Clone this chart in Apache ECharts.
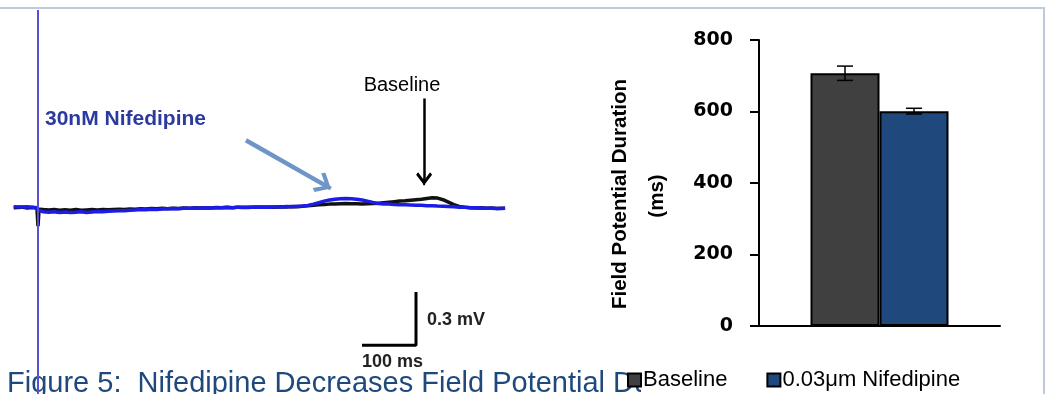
<!DOCTYPE html>
<html><head><meta charset="utf-8">
<script src="https://cdn.jsdelivr.net/npm/echarts@6/dist/echarts.min.js"></script>
<style>html,body{margin:0;padding:0;background:#fff}#c{width:1048px;height:394px}</style>
</head><body><div id="c"></div>
<script>
// ---- Field potential traces (time in ms, voltage in mV) ----
const traceTimeMs = [-45,-30,-20,-10,-2,0,2,10,20,30,40,50,60,70,80,90,100,110,120,130,140,150,160,170,180,190,200,210,220,230,240,250,260,270,280,290,300,310,320,330,340,350,360,370,380,390,400,410,420,430,440,450,460,470,480,490,500,510,520,530,540,550,560,570,580,590,600,610,620,630,640,650,660,670,680,690,700,710,720,730,740,750,760,770,780,790,800,810,820,830,840,850,865];
const baselineTraceMv = [0.003,0.006,0.001,0.004,0.000,-0.102,-0.006,-0.008,-0.010,-0.007,-0.011,-0.009,-0.011,-0.008,-0.012,-0.010,-0.008,-0.010,-0.007,-0.009,-0.007,-0.006,-0.008,-0.005,-0.006,-0.003,-0.005,-0.002,-0.003,-0.001,-0.003,0.000,-0.002,0.001,-0.001,0.002,0.001,0.003,0.001,0.004,0.002,0.005,0.003,0.006,0.004,0.006,0.005,0.007,0.006,0.007,0.006,0.008,0.007,0.009,0.008,0.011,0.014,0.017,0.019,0.021,0.023,0.024,0.025,0.026,0.025,0.025,0.024,0.025,0.026,0.028,0.031,0.034,0.037,0.040,0.042,0.045,0.048,0.051,0.055,0.059,0.057,0.048,0.034,0.020,0.010,0.006,0.003,0.001,0.003,0.000,0.001,-0.002,0.000];
const nifedipineTraceMv = [0.008,0.007,0.008,0.006,0.003,-0.011,-0.017,-0.020,-0.023,-0.020,-0.024,-0.021,-0.025,-0.023,-0.020,-0.024,-0.021,-0.019,-0.020,-0.017,-0.016,-0.014,-0.015,-0.011,-0.010,-0.008,-0.009,-0.006,-0.007,-0.005,-0.003,-0.002,-0.003,0.000,-0.001,0.001,0.000,0.002,0.001,0.003,0.002,0.004,0.003,0.005,0.006,0.004,0.007,0.006,0.007,0.006,0.008,0.007,0.010,0.008,0.011,0.012,0.016,0.023,0.031,0.040,0.046,0.051,0.053,0.055,0.054,0.051,0.046,0.040,0.033,0.027,0.024,0.023,0.021,0.020,0.019,0.018,0.017,0.016,0.014,0.014,0.012,0.011,0.010,0.008,0.006,0.005,0.003,0.002,0.001,0.000,0.000,-0.002,-0.001];
const stimulusTimeMs = 0;
const scaleBarTimeMs = 100;
const scaleBarVoltMv = 0.3;

// ---- Field potential duration bars ----
const barCategories = ['FPD'];
const barSeriesNames = ['Baseline', '0.03\u03bcm Nifedipine'];
const fpdMeansMs = [707, 601];
const fpdErrorsMs = [20, 8];
const fpdAxisMin = 0, fpdAxisMax = 800, fpdAxisStep = 200;

// ---- build ----
const zip = (xs, ys) => xs.map((x, i) => [x, ys[i]]);
const barColors = ['#404040', '#1f497d'];
const barW = 69;
const chevronBlack = 'path://M8,0 L16,10.5 L14,13 L8,5 L2,13 L0,10.5 Z M7,0 L9,0 L9,7 L7,7 Z';
const chevronBlue = 'path://M11,0 L22,12.5 L19.5,16 L11,6 L2.5,16 L0,12.5 Z M9,0 L13,0 L13,8.5 L9,8.5 Z';

const scaleCorner = [700, -0.774];
const errorSeries = fpdMeansMs.map((m, i) => ({
  type: 'custom', xAxisIndex: 1, yAxisIndex: 1, z: 5,
  data: [[0, m, fpdErrorsMs[i]]],
  encode: { x: 0, y: 1 },
  renderItem: function (params, api) {
    const xi = api.value(0), mean = api.value(1), err = api.value(2);
    const off = (i === 0 ? -1 : 1) * barW / 2;
    const x = api.coord([xi, mean])[0] + off;
    const top = api.coord([xi, mean + err])[1];
    const bot = api.coord([xi, mean - err])[1];
    const hw = 8, st = { stroke: '#000', lineWidth: 1.5 };
    return { type: 'group', children: [
      { type: 'line', shape: { x1: x, y1: top, x2: x, y2: bot }, style: st },
      { type: 'line', shape: { x1: x - hw, y1: top, x2: x + hw, y2: top }, style: st },
      { type: 'line', shape: { x1: x - hw, y1: bot, x2: x + hw, y2: bot }, style: st }
    ]};
  }
}));

const chart = echarts.init(document.getElementById('c'), null, { renderer: 'canvas' });
chart.setOption({
  animation: false,
  backgroundColor: '#fff',
  grid: [
    { left: 11, top: 10, width: 540, height: 384 },
    { left: 759, top: 40, width: 241, height: 286 }
  ],
  xAxis: [
    { gridIndex: 0, type: 'value', min: -50, max: 950, show: false },
    { gridIndex: 1, type: 'category', data: barCategories,
      axisLine: { lineStyle: { color: '#000', width: 2 } },
      axisTick: { show: false }, axisLabel: { show: false } }
  ],
  yAxis: [
    { gridIndex: 0, type: 'value', min: -1.05, max: 1.12, show: false },
    { gridIndex: 1, type: 'value', min: fpdAxisMin, max: fpdAxisMax, interval: fpdAxisStep,
      axisLine: { show: true, lineStyle: { color: '#000', width: 2 } },
      axisTick: { show: true, length: 9, lineStyle: { color: '#000', width: 2 } },
      axisLabel: { fontFamily: 'DejaVu Sans', fontWeight: 'bold', fontSize: 19, color: '#000', margin: 26 },
      splitLine: { show: false } }
  ],
  legend: {
    data: barSeriesNames, left: 627, top: 369, padding: 0, itemGap: 39,
    itemWidth: 13, itemHeight: 13, icon: 'rect', z: 10,
    textStyle: { fontFamily: 'Liberation Sans', fontSize: 22, color: '#000', padding: [0, 0, 0, -3] }
  },
  series: [
    { type: 'line', name: 'baselineTrace', xAxisIndex: 0, yAxisIndex: 0, data: zip(traceTimeMs, baselineTraceMv),
      showSymbol: false, symbol: 'none', z: 2, lineStyle: { color: '#111', width: 3.5 }, silent: true },
    { type: 'line', name: 'nifTrace', xAxisIndex: 0, yAxisIndex: 0, data: zip(traceTimeMs, nifedipineTraceMv),
      showSymbol: false, symbol: 'none', z: 3, lineStyle: { color: '#1c1ce6', width: 3.5 }, silent: true },
    { type: 'line', name: 'stimulus', xAxisIndex: 0, yAxisIndex: 0, data: [[stimulusTimeMs, -1.05], [stimulusTimeMs, 1.12]],
      showSymbol: false, symbol: 'none', z: 4, lineStyle: { color: '#5a4fcf', width: 2 }, silent: true },
    { type: 'line', name: 'scaleBar', xAxisIndex: 0, yAxisIndex: 0,
      data: [[scaleCorner[0] - scaleBarTimeMs, scaleCorner[1]], scaleCorner, [scaleCorner[0], scaleCorner[1] + scaleBarVoltMv]],
      showSymbol: false, symbol: 'none', z: 4, lineStyle: { color: '#000', width: 3 }, silent: true,
      markLine: {
        silent: true, animation: false, label: { show: false },
        lineStyle: { type: 'solid' },
        data: [
          [{ coord: [715, 0.62], symbol: 'none', lineStyle: { color: '#000', width: 2.5, type: 'solid' } },
           { coord: [715, 0.167], symbol: chevronBlack, symbolSize: [16, 13] }],
          [{ coord: [385, 0.384], symbol: 'none', lineStyle: { color: '#6f95c8', width: 4.5, type: 'solid' } },
           { coord: [529.5, 0.133], symbol: chevronBlue, symbolSize: [22, 16] }]
        ]
      } },
    { type: 'bar', name: barSeriesNames[0], xAxisIndex: 1, yAxisIndex: 1, data: [fpdMeansMs[0]],
      barWidth: barW, barGap: '0%', itemStyle: { color: barColors[0], borderColor: '#000', borderWidth: 2 } },
    { type: 'bar', name: barSeriesNames[1], xAxisIndex: 1, yAxisIndex: 1, data: [fpdMeansMs[1]],
      barWidth: barW, barGap: '0%', itemStyle: { color: barColors[1], borderColor: '#000', borderWidth: 2 } },
    ...errorSeries
  ],
  graphic: [
    { type: 'line', z: 0, shape: { x1: 0, y1: 8, x2: 1045, y2: 8 }, style: { stroke: '#bccadb', lineWidth: 2 } },
    { type: 'line', z: 0, shape: { x1: 1044, y1: 8, x2: 1044, y2: 394 }, style: { stroke: '#bccadb', lineWidth: 2 } },
    { type: 'text', z: 0, x: 7, y: 384, style: { text: 'Figure 5:  Nifedipine Decreases Field Potential Duration', font: '29px "Liberation Sans"', fill: '#1f497d', align: 'left', verticalAlign: 'middle' } },
    { type: 'rect', z: 1, shape: { x: 641, y: 364, width: 400, height: 30 }, style: { fill: '#fff' } },
    { type: 'text', z: 5, x: 402, y: 85, style: { text: 'Baseline', font: '20px "Liberation Sans"', fill: '#000', align: 'center', verticalAlign: 'middle' } },
    { type: 'text', z: 5, x: 45, y: 119, style: { text: '30nM Nifedipine', font: 'bold 21px "Liberation Sans"', fill: '#2b3a9e', align: 'left', verticalAlign: 'middle' } },
    { type: 'text', z: 5, x: 427, y: 320, style: { text: '0.3 mV', font: 'bold 18px "Liberation Sans"', fill: '#222', align: 'left', verticalAlign: 'middle' } },
    { type: 'text', z: 5, x: 362, y: 362, style: { text: '100 ms', font: 'bold 18px "Liberation Sans"', fill: '#222', align: 'left', verticalAlign: 'middle' } },
    { type: 'text', z: 5, x: 620, y: 194, rotation: Math.PI / 2, style: { text: 'Field Potential Duration', font: 'bold 20.5px "Liberation Sans"', fill: '#000', align: 'center', verticalAlign: 'middle' } },
    { type: 'text', z: 5, x: 657, y: 196, rotation: Math.PI / 2, style: { text: '(ms)', font: 'bold 20.5px "Liberation Sans"', fill: '#000', align: 'center', verticalAlign: 'middle' } }
  ]
});
</script>
</body></html>
